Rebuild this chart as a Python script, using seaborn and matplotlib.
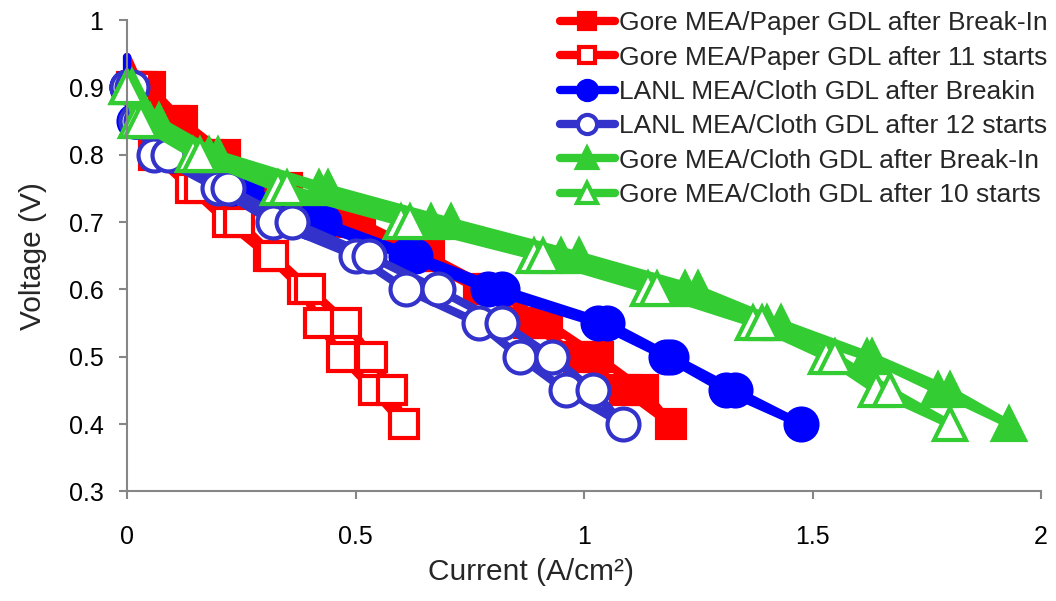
import matplotlib
matplotlib.use("Agg")
import matplotlib.pyplot as plt
import seaborn as sns
import pandas as pd
from matplotlib.ticker import FuncFormatter

# voltage steps of the polarisation sweep: down to 0.4 V and back up
sweep_v = [0.9, 0.85, 0.8, 0.75, 0.7, 0.65, 0.6, 0.55, 0.5, 0.45, 0.4,
           0.45, 0.5, 0.55, 0.6, 0.65, 0.7, 0.75, 0.8, 0.85, 0.9]
ocv_v = [0.945]

labels = [
    "Gore MEA/Paper GDL after Break-In",
    "Gore MEA/Paper GDL after 11 starts",
    "LANL MEA/Cloth GDL after Breakin",
    "LANL MEA/Cloth GDL after 12 starts",
    "Gore MEA/Cloth GDL after Break-In",
    "Gore MEA/Cloth GDL after 10 starts",
]

# current density (A/cm2)
gore_paper_breakin = [0.0, 0.03, 0.10, 0.18, 0.31, 0.48, 0.63, 0.77, 0.88, 0.99, 1.09, 1.19,
                      1.13, 1.03, 0.92, 0.80, 0.66, 0.51, 0.35, 0.215, 0.12, 0.05]
gore_paper_11 = [0.01, 0.03, 0.06, 0.14, 0.22, 0.31, 0.385, 0.42, 0.47, 0.54, 0.605,
                 0.58, 0.535, 0.48, 0.40, 0.32, 0.245, 0.16, 0.08, 0.04, 0.02]
lanl_breakin = [0.0, 0.0, 0.015, 0.10, 0.23, 0.40, 0.61, 0.79, 1.03, 1.18, 1.31, 1.475,
                1.33, 1.19, 1.05, 0.82, 0.63, 0.43, 0.26, 0.13, 0.02, 0.0]
lanl_12 = [0.0, 0.02, 0.06, 0.20, 0.32, 0.50, 0.61, 0.77, 0.86, 0.96, 1.085,
           1.02, 0.93, 0.82, 0.68, 0.53, 0.36, 0.22, 0.09, 0.03, 0.01]
gore_cloth_breakin = [0.0, 0.05, 0.18, 0.42, 0.665, 0.95, 1.22, 1.40, 1.62, 1.775, 1.93,
                      1.80, 1.63, 1.43, 1.25, 0.99, 0.71, 0.44, 0.20, 0.07, 0.01]
gore_cloth_10 = [0.0, 0.02, 0.145, 0.33, 0.60, 0.89, 1.14, 1.37, 1.53, 1.64, 1.80,
                 1.67, 1.55, 1.39, 1.16, 0.91, 0.62, 0.35, 0.16, 0.03, 0.0]

x_ticks = [0, 0.5, 1, 1.5, 2]
y_ticks = [0.3, 0.4, 0.5, 0.6, 0.7, 0.8, 0.9, 1.0]

sns.set_theme(style="ticks")
plt.rcParams["font.family"] = ["Liberation Sans", "DejaVu Sans"]

series = [
    (gore_paper_breakin, ocv_v + sweep_v, "#FF0000", "s", True, 20),
    (gore_paper_11, sweep_v, "#FF0000", "s", False, 20),
    (lanl_breakin, ocv_v + sweep_v, "#0000FF", "o", True, 23),
    (lanl_12, sweep_v, "#3333CC", "o", False, 23),
    (gore_cloth_breakin, sweep_v, "#33CC33", "^", True, 23),
    (gore_cloth_10, sweep_v, "#33CC33", "^", False, 23),
]

fig = plt.figure(figsize=(10.56, 6.01), dpi=100)
ax = fig.add_axes([0.1203, 0.1822, 0.8655, 0.7845])

for (cur, volt, col, mk, filled, ms), lab in zip(series, labels):
    df = pd.DataFrame({"current": cur, "voltage": volt})
    # the open-circuit point has no marker
    every = list(range(len(cur) - len(sweep_v), len(cur)))
    sns.lineplot(data=df, x="current", y="voltage", ax=ax, sort=False, estimator=None,
                 color=col, linewidth=6, marker=mk, markersize=ms, markevery=every,
                 markerfacecolor=col if filled else "white",
                 markeredgecolor=col, markeredgewidth=3,
                 label=lab, clip_on=False)

ax.set_xlim(0, 2)
ax.set_ylim(0.3, 1.0)
ax.set_xticks(x_ticks)
ax.set_yticks(y_ticks)
fmt = FuncFormatter(lambda v, p: f"{v:g}")
ax.xaxis.set_major_formatter(fmt)
ax.yaxis.set_major_formatter(fmt)

for side in ["top", "right"]:
    ax.spines[side].set_visible(False)
for side in ["left", "bottom"]:
    ax.spines[side].set_color("#868686")
    ax.spines[side].set_linewidth(1.5)
ax.tick_params(axis="both", colors="#868686", labelcolor="black", length=6, width=1.5,
               labelsize=18)
ax.tick_params(axis="y", pad=11)
ax.tick_params(axis="x", pad=18)

ax.set_xlabel("Current (A/cm²)", fontsize=21.5)
ax.set_ylabel("Voltage (V)", fontsize=21.5)
ax.xaxis.set_label_coords(0.442, -0.142)
ax.yaxis.set_label_coords(-0.088, 0.5)

ax.legend(loc="upper left", bbox_to_anchor=(0.530, 0.981), bbox_transform=fig.transFigure,
          frameon=False, fontsize=19, handlelength=2.1, handletextpad=0.15,
          labelspacing=0.39, markerscale=0.6, borderpad=0, borderaxespad=0)

fig.savefig("out.png", dpi=100)
